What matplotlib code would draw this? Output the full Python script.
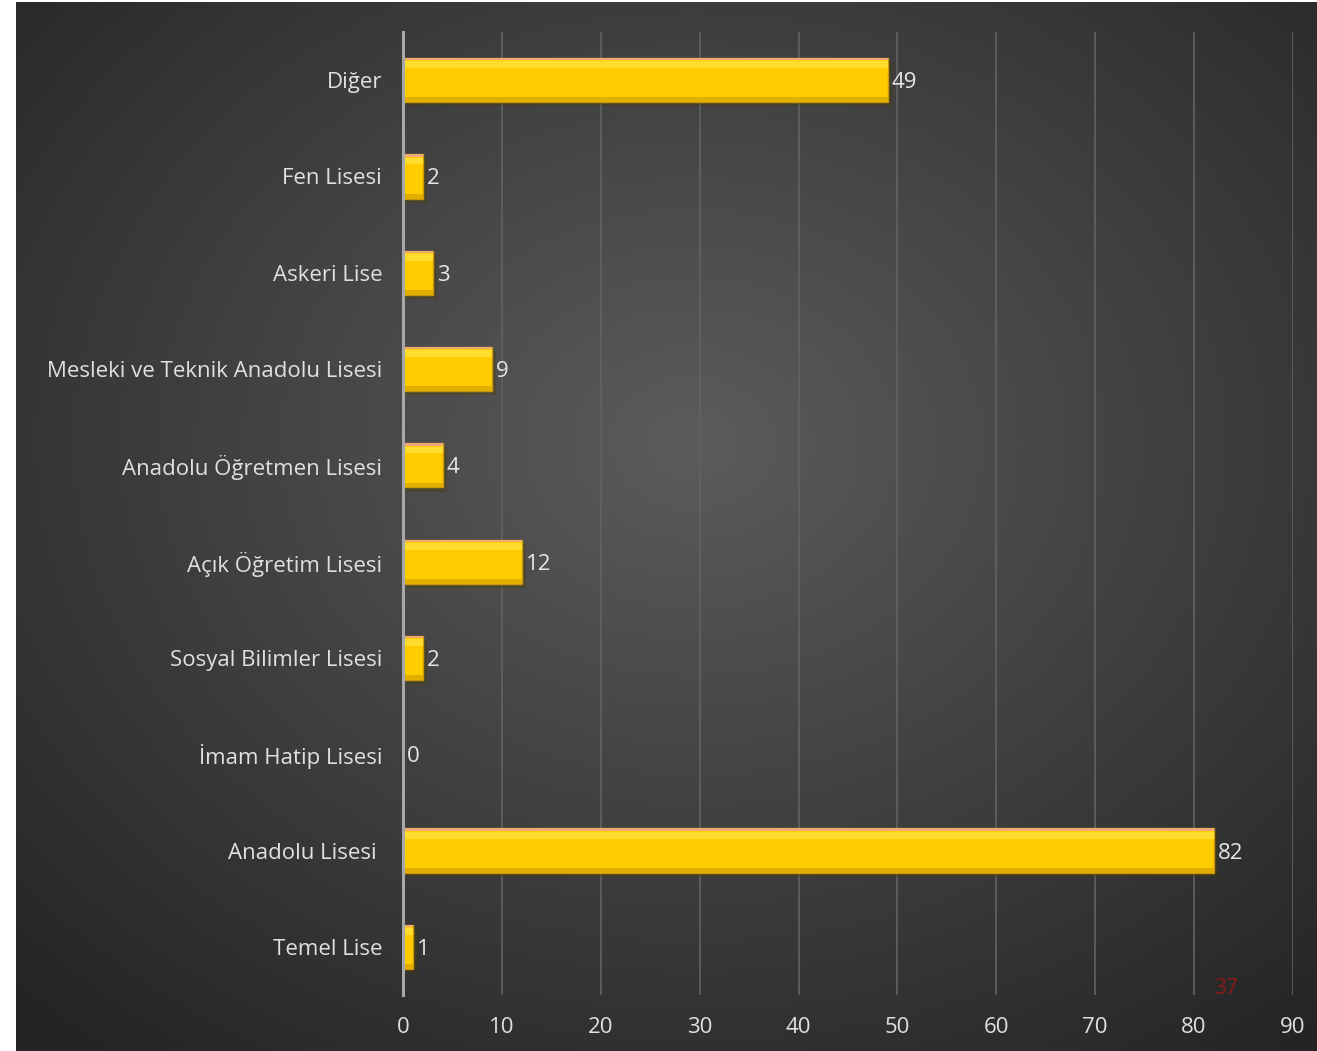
import matplotlib.pyplot as plt
import matplotlib.patheffects as pe
import numpy as np

# Datos del grafico (de abajo hacia arriba)
categorias = ['Temel Lise', 'Anadolu Lisesi ', 'İmam Hatip Lisesi', 'Sosyal Bilimler Lisesi',
              'Açık Öğretim Lisesi', 'Anadolu Öğretmen Lisesi', 'Mesleki ve Teknik Anadolu Lisesi',
              'Askeri Lise', 'Fen Lisesi', 'Diğer']
valores = [1, 82, 0, 2, 12, 4, 9, 3, 2, 49]
ticks_x = [0, 10, 20, 30, 40, 50, 60, 70, 80, 90]
numero_pagina = '37'

plt.rcParams['font.family'] = ['Open Sans', 'DejaVu Sans']

W, H = 1317, 1051
fig = plt.figure(figsize=(W / 100, H / 100), dpi=100)
fig.patch.set_facecolor('white')

# Fondo con degradado radial
bg = fig.add_axes([16 / W, 0, 1 - 16 / W, 1 - 2 / H])
bg.set_axis_off()
yy, xx = np.mgrid[0:1:300j, 0:1:380j]
d = np.sqrt(((xx - 0.52) / 0.75) ** 2 + ((yy - 0.42) / 0.75) ** 2)
gris = np.clip(0.36 - 0.22 * d, 0.145, 0.36)
img = np.dstack([gris, gris, gris])
bg.imshow(img, aspect='auto', extent=[0, 1, 0, 1], origin='upper', interpolation='bicubic')

ax = fig.add_axes([403 / W, 1 - 995 / H, (1293 - 403) / W, (995 - 32) / H])
ax.patch.set_alpha(0)

y = np.arange(len(categorias))
alto = 0.46
barras = ax.barh(y, valores, height=alto, color='#FFCC00', edgecolor='#C99A06',
                 linewidth=1.0, zorder=3)
for b in barras:
    b.set_path_effects([pe.SimplePatchShadow(offset=(3, -3), alpha=0.35), pe.Normal()])
# brillo superior e inferior para el efecto biselado
ax.barh(y + alto / 2 - 0.012, valores, height=0.024, color='#EFA87A', linewidth=0, zorder=4)
ax.barh(y + alto / 2 - 0.07, valores, height=0.07, color='#FFDD2E', linewidth=0, zorder=4)
ax.barh(y - alto / 2 + 0.025, valores, height=0.05, color='#E2AE00', linewidth=0, zorder=4)

for yi, v in zip(y, valores):
    ax.annotate(str(v), (v, yi), xytext=(3, 0), textcoords='offset points',
                va='center_baseline', ha='left', color='#E6E6E6', fontsize=16, zorder=5)

ax.set_xlim(0, 90)
ax.set_ylim(-0.5, len(categorias) - 0.5)
ax.set_xticks(ticks_x)
ax.set_yticks(y)
ax.set_yticklabels(categorias, va='center_baseline')
ax.tick_params(axis='both', length=0, colors='#E0E0E0', labelsize=16)
ax.tick_params(axis='y', pad=15)
ax.tick_params(axis='x', pad=16)
ax.grid(axis='x', color='#626262', linewidth=1.2, zorder=0)
ax.set_axisbelow(True)
for s in ['top', 'right', 'bottom']:
    ax.spines[s].set_visible(False)
ax.spines['left'].set_color('#A8A8A8')
ax.spines['left'].set_linewidth(2.2)
ax.spines['left'].set_zorder(6)

fig.text(1226 / W, 1 - 988 / H, numero_pagina, color='#8B1A1A', fontsize=15,
         ha='center', va='center')

fig.savefig('out.png', dpi=100)
